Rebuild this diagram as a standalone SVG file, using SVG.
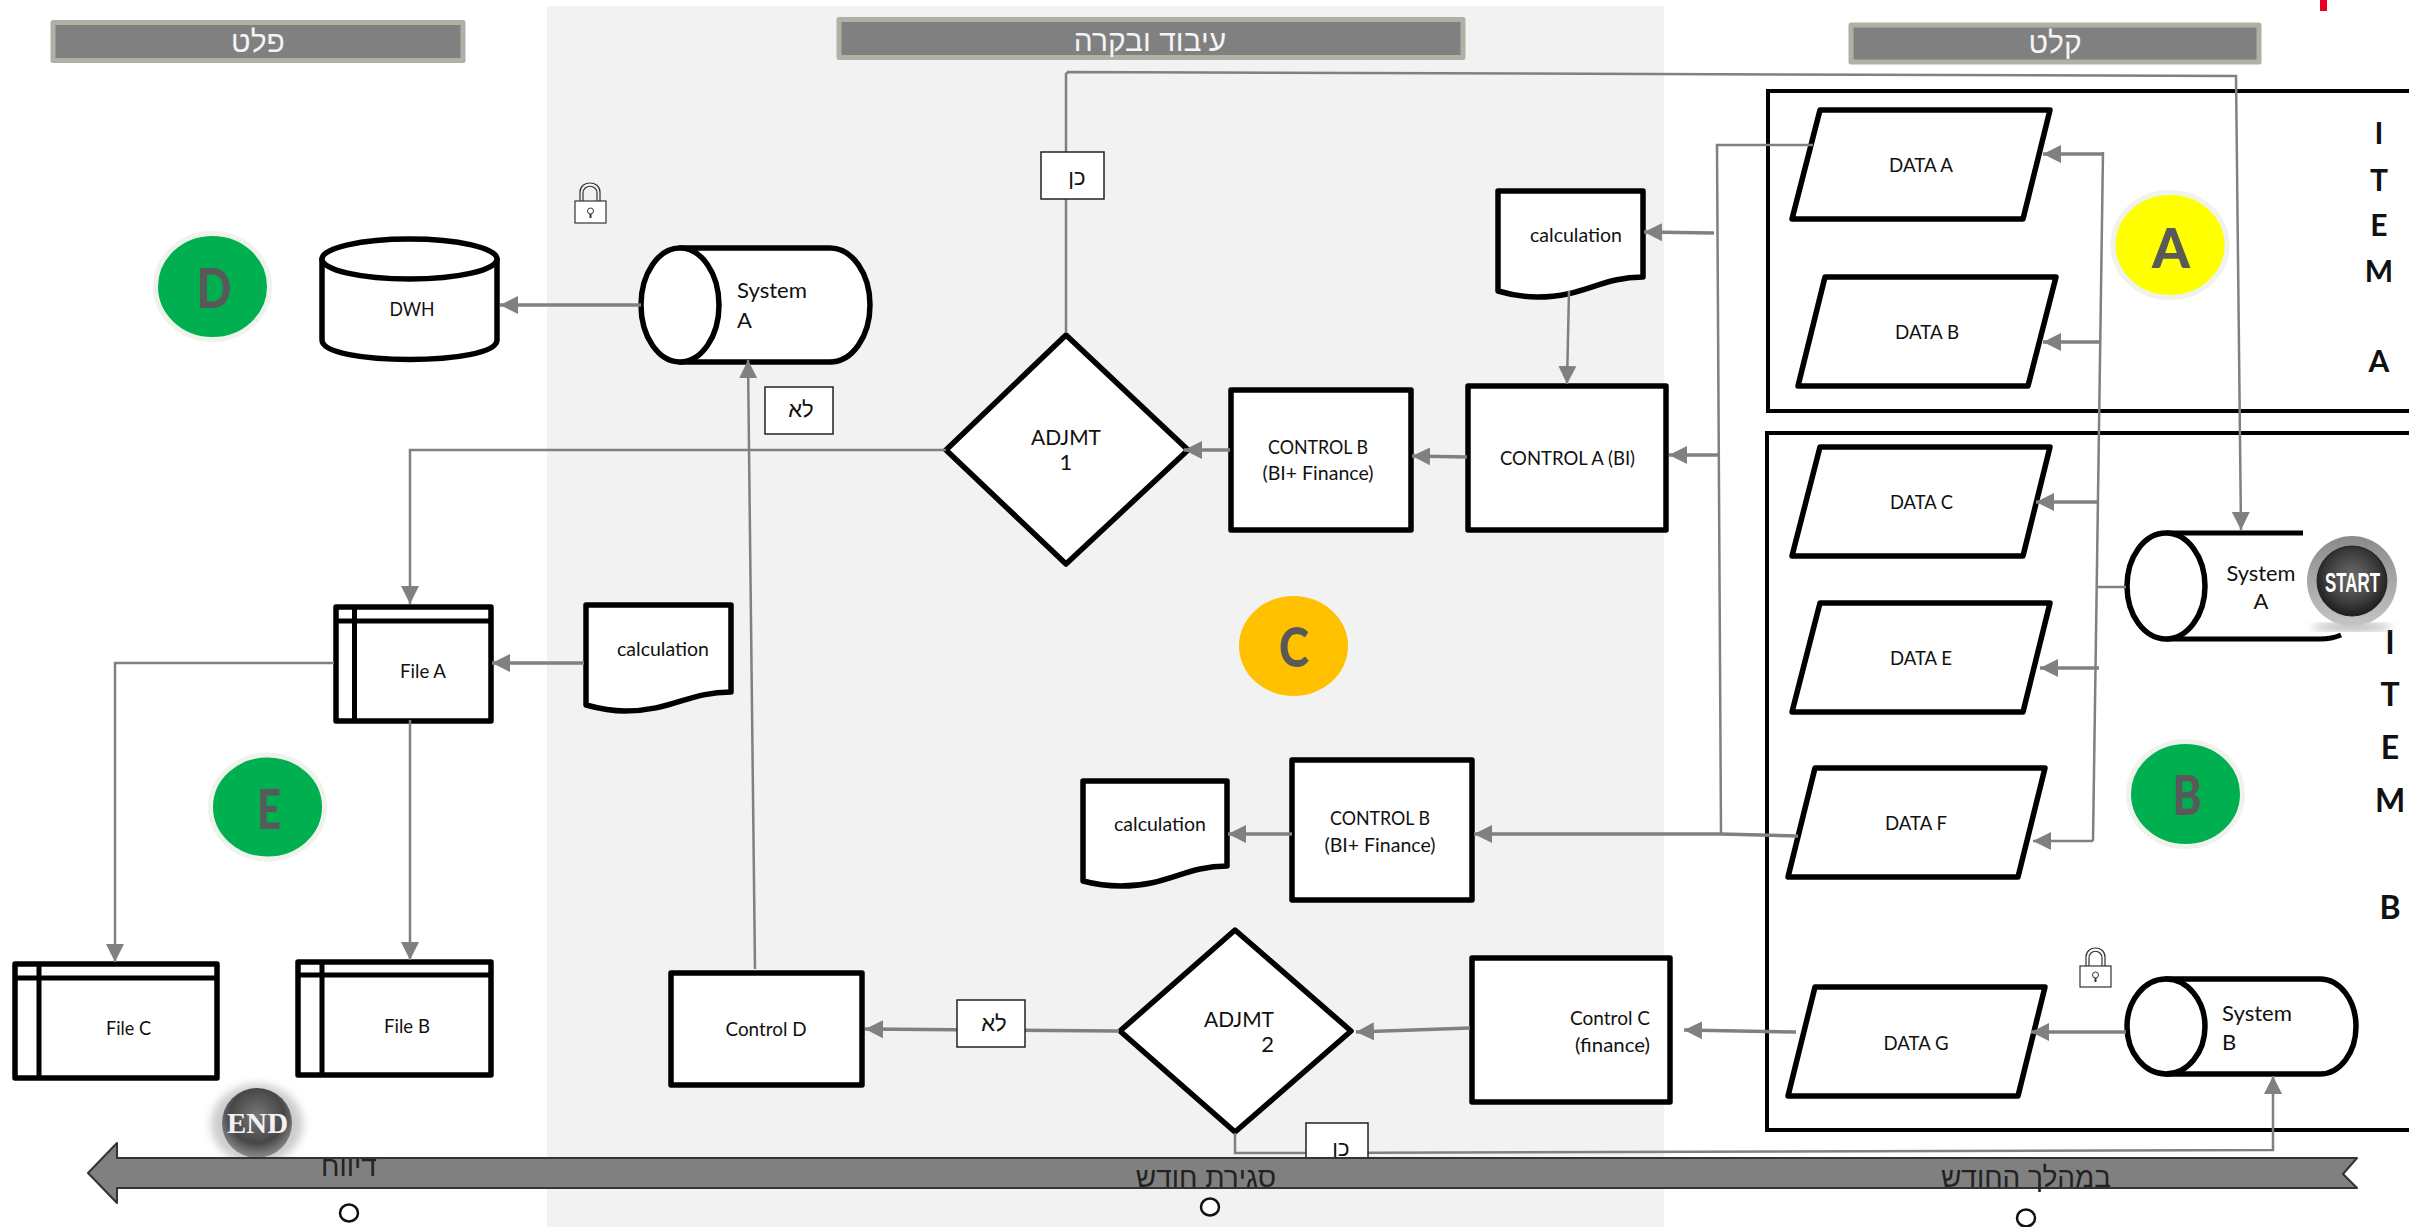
<svg xmlns="http://www.w3.org/2000/svg" width="2409" height="1227" viewBox="0 0 2409 1227">
<style>
.n{fill:#fff;stroke:#000;stroke-width:5.5;stroke-linejoin:round}
.f{fill:none;stroke:#000;stroke-width:4}
.t{font-family:"Lato","Liberation Sans",sans-serif;font-size:20px;fill:#111}
.tb{font-size:22px}
.m{text-anchor:middle}
.e{text-anchor:end}
.c{fill:none;stroke:#808080;stroke-width:2.5}
.a{fill:none;stroke:#808080;stroke-width:3.5;marker-end:url(#ah)}
.a2{fill:none;stroke:#808080;stroke-width:2.5;marker-end:url(#ah)}
.h{fill:#808080;stroke:#b0b0a6;stroke-width:5;stroke-linejoin:round}
.ht{font-family:"Liberation Sans","DejaVu Sans",sans-serif;font-size:30px;fill:#f4f4f4;text-anchor:middle}
.hb{font-family:"Liberation Sans","DejaVu Sans",sans-serif;font-size:22px;fill:#111;text-anchor:middle}
.tl{font-family:"Liberation Sans","DejaVu Sans",sans-serif;font-size:28px;fill:#222;text-anchor:middle}
.l{fill:#fff;stroke:#222;stroke-width:1.5}
.big{font-family:"Lato","Liberation Sans",sans-serif;font-weight:900;font-size:56px;fill:#595959;text-anchor:middle}
.item{font-family:"Lato","Liberation Sans",sans-serif;font-weight:700;font-size:30px;fill:#111;text-anchor:middle}
.itemb{font-size:32px}
.ring{stroke:#f0f2ec;stroke-width:5}
.lock{fill:#fff;stroke:#333;stroke-width:1.2}
.dot{fill:#fff;stroke:#111;stroke-width:2.5}
</style>
<defs>
<marker id="ah" markerUnits="userSpaceOnUse" markerWidth="19" markerHeight="20" viewBox="0 0 19 20" refX="18" refY="10" orient="auto"><path d="M0,1 L18,10 L0,19 Z" fill="#808080"/></marker>
<radialGradient id="startG" cx="50%" cy="45%" r="55%"><stop offset="0" stop-color="#6e6e6e"/><stop offset="0.7" stop-color="#3a3a3a"/><stop offset="1" stop-color="#1c1c1c"/></radialGradient>
<linearGradient id="startR" x1="0" y1="0" x2="0" y2="1"><stop offset="0" stop-color="#8a8a8a"/><stop offset="1" stop-color="#c4c4c4"/></linearGradient>
<radialGradient id="endG" cx="50%" cy="40%" r="60%"><stop offset="0" stop-color="#777"/><stop offset="0.65" stop-color="#474747"/><stop offset="1" stop-color="#8c8c8c"/></radialGradient>
<filter id="blur" x="-30%" y="-30%" width="160%" height="160%"><feGaussianBlur stdDeviation="4"/></filter>
</defs>

<rect id="panel" x="547" y="6" width="1117" height="1221" fill="#f2f2f2"/>
<rect x="2320" y="0" width="7" height="11" fill="#e60022"/>

<g id="header-output"><rect class="h" x="53" y="22.500" width="410" height="38"/><text class="ht" x="258" y="52">פלט</text></g>
<g id="header-process"><rect class="h" x="839" y="19.500" width="624" height="38"/><text class="ht" x="1150" y="51">עיבוד ובקרה</text></g>
<g id="header-input"><rect class="h" x="1851" y="25" width="408" height="37"/><text class="ht" x="2055" y="53">קלט</text></g>

<g id="frame-item-a"><path class="f" d="M2415,91 H1768 V411 H2415"/>
<text class="item" x="2379" y="144">I</text><text class="item" x="2379" y="191">T</text><text class="item" x="2379" y="236">E</text><text class="item" x="2379" y="282">M</text><text class="item" x="2379" y="372">A</text></g>
<g id="frame-item-b"><path class="f" d="M2415,433 H1767 V1130 H2415"/>
<text class="item itemb" x="2390" y="654">I</text><text class="item itemb" x="2390" y="706">T</text><text class="item itemb" x="2390" y="759">E</text><text class="item itemb" x="2390" y="812">M</text><text class="item itemb" x="2390" y="919">B</text></g>

<g id="data-a"><path class="n" d="M1820,110 H2050 L2023,219 H1792 Z"/><text class="t m" x="1921" y="172" textLength="64" lengthAdjust="spacingAndGlyphs">DATA A</text></g>
<g id="data-b"><path class="n" d="M1825,277 H2056 L2028,386 H1798 Z"/><text class="t m" x="1927" y="339" textLength="64" lengthAdjust="spacingAndGlyphs">DATA B</text></g>
<g id="data-c"><path class="n" d="M1820,447 H2050 L2023,556 H1792 Z"/><text class="t m" x="1921.500" y="509" textLength="63" lengthAdjust="spacingAndGlyphs">DATA C</text></g>
<g id="data-e"><path class="n" d="M1820,603 H2050 L2023,712 H1792 Z"/><text class="t m" x="1921" y="665" textLength="62" lengthAdjust="spacingAndGlyphs">DATA E</text></g>
<g id="data-f"><path class="n" d="M1815,768 H2045 L2018,877 H1788 Z"/><text class="t m" x="1916" y="830" textLength="62" lengthAdjust="spacingAndGlyphs">DATA F</text></g>
<g id="data-g"><path class="n" d="M1815,987 H2045 L2018,1096 H1788 Z"/><text class="t m" x="1916" y="1050" textLength="65" lengthAdjust="spacingAndGlyphs">DATA G</text></g>

<g id="badge-a"><ellipse cx="2170" cy="245" rx="57" ry="52.500" style="fill:#ffff00" class="ring"/><text class="big" x="2171" y="268" textLength="38" lengthAdjust="spacingAndGlyphs">A</text></g>
<g id="badge-b"><ellipse cx="2185.500" cy="794" rx="57" ry="52.500" style="fill:#00b050" class="ring"/><text class="big" x="2187" y="815" textLength="29" lengthAdjust="spacingAndGlyphs">B</text></g>
<g id="badge-c"><ellipse cx="1293.500" cy="646" rx="54.500" ry="50" fill="#ffc000"/><text class="big" x="1294" y="667" textLength="30" lengthAdjust="spacingAndGlyphs">C</text></g>
<g id="badge-d"><ellipse cx="212.500" cy="286.500" rx="57" ry="53" style="fill:#00b050" class="ring"/><text class="big" x="214" y="308" textLength="35" lengthAdjust="spacingAndGlyphs">D</text></g>
<g id="badge-e"><ellipse cx="267.500" cy="807" rx="57" ry="52" style="fill:#00b050" class="ring"/><text class="big" x="269" y="829" textLength="24" lengthAdjust="spacingAndGlyphs">E</text></g>

<g id="system-a-input">
<path d="M2166,533 H2303" fill="none" stroke="#000" stroke-width="5"/>
<path d="M2166,639 H2320 Q2332,639 2341,635" fill="none" stroke="#000" stroke-width="5"/>
<ellipse class="n" cx="2166" cy="586" rx="39" ry="53"/>
<text class="t tb m" x="2261" y="581" textLength="69" lengthAdjust="spacingAndGlyphs">System</text><text class="t tb m" x="2261" y="609">A</text>
</g>
<g id="start-button">
<ellipse cx="2352" cy="627" rx="40" ry="3" fill="#999" filter="url(#blur)"/>
<circle cx="2352" cy="581" r="45" fill="url(#startR)"/>
<circle cx="2352" cy="581" r="35" fill="url(#startG)" stroke="#222" stroke-width="1"/>
<text x="2352.500" y="592" font-family="Liberation Sans,sans-serif" font-weight="700" font-size="28px" fill="#fff" text-anchor="middle" textLength="55" lengthAdjust="spacingAndGlyphs">START</text>
</g>

<g id="system-b">
<path class="n" d="M2166,979 H2320 A36,47.500 0 0 1 2320,1074 H2166 Z"/>
<ellipse class="n" cx="2166" cy="1026.500" rx="39" ry="47.500"/>
<text class="t tb" x="2222" y="1021" textLength="70" lengthAdjust="spacingAndGlyphs">System</text><text class="t tb" x="2222" y="1050">B</text>
</g>
<g id="lock-b"><path d="M2086,966 V957 C2086,945 2105,945 2105,957 V966 M2089,966 V958 C2089,949 2102,949 2102,958 V966" fill="none" stroke="#333" stroke-width="1.200"/><rect class="lock" x="2080" y="966" width="31" height="21"/><circle cx="2095.500" cy="975" r="3" fill="none" stroke="#333"/><path d="M2095.500,978 V982" stroke="#333" stroke-width="2"/></g>

<g id="calc-1"><path class="n" d="M1498,191 H1643 V277 C1600,277 1585,297 1537,297 C1520,297 1508,294 1498,291 Z"/><text class="t" x="1530" y="242" textLength="92" lengthAdjust="spacingAndGlyphs">calculation</text></g>
<g id="control-a"><rect class="n" x="1468" y="386" width="198" height="144"/><text class="t" x="1500" y="465" textLength="135" lengthAdjust="spacingAndGlyphs">CONTROL A (BI)</text></g>
<g id="control-b-1"><rect class="n" x="1231" y="390" width="180" height="140"/><text class="t m" x="1318" y="454" textLength="100" lengthAdjust="spacingAndGlyphs">CONTROL B</text><text class="t m" x="1318" y="480" textLength="111" lengthAdjust="spacingAndGlyphs">(BI+ Finance)</text></g>
<g id="adjmt-1"><path class="n" d="M1066,335 L1188,450 L1066,564 L946,450 Z"/><text class="t tb m" x="1066" y="445" textLength="70" lengthAdjust="spacingAndGlyphs">ADJMT</text><text class="t tb m" x="1066" y="470">1</text></g>
<g id="system-a">
<path class="n" d="M680,248 H830 A40,57 0 0 1 830,362 H680 Z"/>
<ellipse class="n" cx="680" cy="305" rx="39" ry="57"/>
<text class="t tb" x="737" y="298" textLength="70" lengthAdjust="spacingAndGlyphs">System</text><text class="t tb" x="737" y="328">A</text>
</g>
<g id="lock-a"><path d="M580,201 V192 C580,180 600,180 600,192 V201 M583,201 V193 C583,184 597,184 597,193 V201" fill="none" stroke="#333" stroke-width="1.200"/><rect class="lock" x="575" y="201" width="31" height="22"/><circle cx="590.500" cy="211" r="3" fill="none" stroke="#333"/><path d="M590.500,214 V218" stroke="#333" stroke-width="2"/></g>
<g id="dwh">
<path class="n" d="M322,259 V340 C322,366 497,366 497,340 V259 Z"/>
<ellipse class="n" cx="409.500" cy="259" rx="87.500" ry="20"/>
<text class="t m" x="412" y="316" textLength="45" lengthAdjust="spacingAndGlyphs">DWH</text>
</g>
<g id="file-a"><rect class="n" x="336" y="607" width="155" height="114"/><path d="M336,621 H491 M354.500,607 V721" stroke="#000" stroke-width="5" fill="none"/><text class="t" x="400" y="678" textLength="46" lengthAdjust="spacingAndGlyphs">File A</text></g>
<g id="file-b"><rect class="n" x="298" y="962" width="193" height="113"/><path d="M298,975 H491 M322,962 V1075" stroke="#000" stroke-width="5" fill="none"/><text class="t" x="384" y="1033" textLength="46" lengthAdjust="spacingAndGlyphs">File B</text></g>
<g id="file-c"><rect class="n" x="15" y="964" width="202" height="114"/><path d="M15,978 H217 M39,964 V1078" stroke="#000" stroke-width="5" fill="none"/><text class="t" x="106" y="1035" textLength="45" lengthAdjust="spacingAndGlyphs">File C</text></g>
<g id="calc-2"><path class="n" d="M586,605 H731 V692 C688,692 672,711 625,711 C610,711 597,708 586,705 Z"/><text class="t" x="617" y="656" textLength="92" lengthAdjust="spacingAndGlyphs">calculation</text></g>
<g id="calc-3"><path class="n" d="M1083,781 H1227 V866 C1185,866 1168,886 1121,886 C1106,886 1094,884 1083,881 Z"/><text class="t" x="1114" y="831" textLength="92" lengthAdjust="spacingAndGlyphs">calculation</text></g>
<g id="control-b-2"><rect class="n" x="1292" y="760" width="180" height="140"/><text class="t m" x="1380" y="825" textLength="100" lengthAdjust="spacingAndGlyphs">CONTROL B</text><text class="t m" x="1380" y="852" textLength="111" lengthAdjust="spacingAndGlyphs">(BI+ Finance)</text></g>
<g id="control-c"><rect class="n" x="1472" y="958" width="198" height="144"/><text class="t" x="1570" y="1025" textLength="80" lengthAdjust="spacingAndGlyphs">Control C</text><text class="t" x="1575" y="1052" textLength="75" lengthAdjust="spacingAndGlyphs">(finance)</text></g>
<g id="adjmt-2"><path class="n" d="M1235,930 L1351,1031 L1235,1132 L1120,1031 Z"/><text class="t tb" x="1204" y="1027" textLength="70" lengthAdjust="spacingAndGlyphs">ADJMT</text><text class="t tb e" x="1274" y="1052">2</text></g>
<g id="control-d"><rect class="n" x="671" y="973" width="191" height="112"/><text class="t m" x="766" y="1036" textLength="81" lengthAdjust="spacingAndGlyphs">Control D</text></g>

<g id="connectors">
<path class="c" d="M1813,145 H1717 L1721,834"/>
<path class="c" d="M2103,152 L2093,841"/>
<path class="a" d="M2103,154 H2043"/>
<path class="a" d="M2099,342 H2043"/>
<path class="a" d="M2098,502 H2036"/>
<path class="c" d="M2098,587 H2126"/>
<path class="a" d="M2099,668 H2040"/>
<path class="a2" d="M2093,841 H2033"/>
<path class="a" d="M1714,233 L1644,232"/>
<path class="a" d="M1718,455 H1669"/>
<path class="a" d="M1798,836 L1721,834 H1474"/>
<path class="a" d="M1292,834 H1228"/>
<path class="a2" d="M1066,333 V74 L1068,72 L2236,76 L2241,530"/>
<path class="a" d="M1230,450 H1184"/>
<path class="a" d="M1467,457 L1412,456"/>
<path class="a2" d="M1569,291 L1567,384"/>
<path class="a" d="M641,305 H500"/>
<path class="a2" d="M946,450 H410 V604"/>
<path class="a2" d="M334,663 H115 V962"/>
<path class="a2" d="M410,720 V960"/>
<path class="a" d="M584,663 H492"/>
<path class="a2" d="M755,969 L748,360"/>
<path class="a" d="M1119,1031 L865,1029"/>
<path class="a" d="M1470,1028 L1356,1032"/>
<path class="a" d="M1796,1032 L1684,1030"/>
<path class="a" d="M2126,1032 L2031,1032"/>
<path class="a2" d="M1235,1133 V1153 H1300 L2273,1150 V1076"/>
</g>

<g id="label-ken-1"><rect class="l" x="1041" y="152" width="63" height="47"/><text class="hb" x="1077" y="185">כן</text></g>
<g id="label-lo-1"><rect class="l" x="765" y="387" width="68" height="47"/><text class="hb" x="801" y="417">לא</text></g>
<g id="label-lo-2"><rect class="l" x="957" y="1000" width="68" height="47"/><text class="hb" x="994" y="1031">לא</text></g>
<g id="label-ken-2"><rect class="l" x="1306" y="1123" width="62" height="40"/><text class="hb" x="1341" y="1156">כן</text></g>

<g id="end-button">
<ellipse cx="257" cy="1124" rx="46" ry="40" fill="#ccc" filter="url(#blur)"/>
<circle cx="257" cy="1123" r="35" fill="url(#endG)"/>
<text x="257.500" y="1133" font-family="Liberation Serif,serif" font-weight="700" font-size="30px" fill="#f2f2f2" text-anchor="middle" textLength="61" lengthAdjust="spacingAndGlyphs">END</text>
</g>

<g id="timeline">
<path d="M88,1173 L117,1143 V1158 H2357 L2343,1174 L2357,1188 H117 V1203 Z" fill="#808080" stroke="#333" stroke-width="2" stroke-linejoin="round"/>
<text class="tl" x="349" y="1176">דיווח</text>
<text class="tl" x="1206" y="1187">סגירת חודש</text>
<text class="tl" x="2026" y="1187">במהלך החודש</text>
<ellipse class="dot" cx="349" cy="1213" rx="9" ry="8.500"/>
<ellipse class="dot" cx="1210" cy="1207" rx="9" ry="8.500"/>
<ellipse class="dot" cx="2026" cy="1218" rx="9" ry="8.500"/>
</g>
</svg>
